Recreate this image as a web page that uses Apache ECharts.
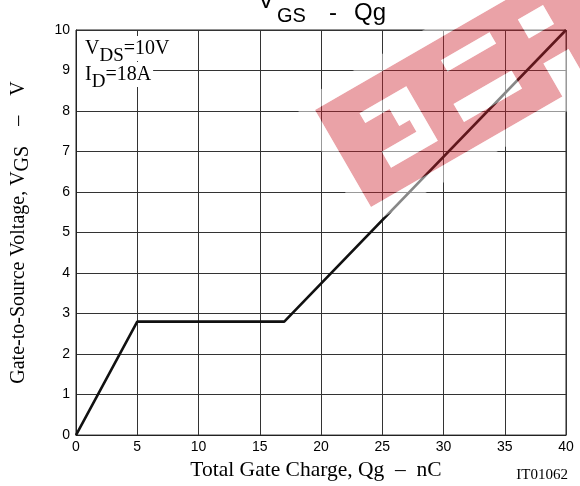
<!DOCTYPE html>
<html>
<head>
<meta charset="utf-8">
<script src="https://cdn.jsdelivr.net/npm/echarts@6/dist/echarts.min.js"></script>
<style>
html,body{margin:0;padding:0;background:#fff;}
#chart{width:580px;height:486px;}
</style>
</head>
<body>
<div id="chart"></div>
<script>
// Data
const qg = [0, 5, 17, 40];          // Total Gate Charge, nC
const vgs = [0, 2.8, 2.8, 10];      // Gate-to-Source Voltage, V
const xMin = 0, xMax = 40, xStep = 5;
const yMin = 0, yMax = 10, yStep = 1;

const serif = "'Liberation Serif','Times New Roman',serif";
const sans = "'Liberation Sans',Arial,sans-serif";

// watermark geometry (local coordinates of a rotated band)
const redPts = [[0,0],[330,0],[330,112],[250,112],[250,74],[221,74],[221,112],[0,112],[0,25],
 [37,25],[37,36.5],[65,36.5],[65,56],[77,56],[77,69.5],[37,69.5],[37,88],[91,88],[91,25],
 [134,25],[134,33],[160,33],[160,64],[123,64],[123,85],[190,85],[190,64],[160,64],[160,33],[190,33],[190,25],
 [221,25],[221,45],[250,45],[250,23],[221,23],[221,25],[190,25],[190,20],[134,20],[134,25],[91,25],[37,25],[0,25]];
const ringPts = [[-15,-15],[345,-15],[345,127],[-15,127],[-15,50],[0,50],[0,112],[221,112],[221,74],[250,74],[250,112],[330,112],[330,0],[0,0],[0,50],[-15,50]];
const hookPts = [[37,25],[91,25],[91,88],[37,88],[37,69.5],[77,69.5],[77,56],[65,56],[65,36.5],[37,36.5]];
const holeRects = [[134,20,56,13],[123,64,67,21],[221,23,29,22]];

const RED = 'rgba(205,34,45,0.42)';
const WHITE = 'rgba(255,255,255,0.5)';
const wmChildren = [
  {type:'polygon', z:50, shape:{points:redPts}, style:{fill:RED}},
  {type:'polygon', z:50, shape:{points:ringPts}, style:{fill:WHITE}},
  {type:'polygon', z:50, shape:{points:hookPts}, style:{fill:WHITE}}
].concat(holeRects.map(r => ({type:'rect', z:50, shape:{x:r[0],y:r[1],width:r[2],height:r[3]}, style:{fill:WHITE}})));

const annoRich = {
  a:{fontFamily:serif, fontSize:20, lineHeight:22, verticalAlign:'top', fill:'#000'},
  b:{fontFamily:serif, fontSize:19, lineHeight:16, padding:[8,0,0,0], verticalAlign:'top', fill:'#000'}
};

const chart = echarts.init(document.getElementById('chart'), null, {renderer:'canvas'});
chart.setOption({
  animation: false,
  backgroundColor: '#fff',
  grid: {left:76, right:14, top:30, bottom:50, show:true, borderColor:'#222', borderWidth:1},
  xAxis: {
    type:'value', min:xMin, max:xMax, interval:xStep,
    name:'Total Gate Charge, Qg  –  nC', nameLocation:'middle', nameGap:12,
    nameTextStyle:{fontFamily:serif, fontSize:21.5, color:'#000', padding:[0,10,0,0]},
    axisLine:{lineStyle:{color:'#222', width:1}}, axisTick:{show:false},
    axisLabel:{fontFamily:sans, fontSize:14, color:'#000', margin:5},
    splitLine:{show:true, lineStyle:{color:'#333', width:1}}
  },
  yAxis: {
    type:'value', min:yMin, max:yMax, interval:yStep,
    name:'Gate-to-Source Voltage, V{s|GS}    –    V', nameLocation:'middle', nameGap:68, nameRotate:90,
    nameTextStyle:{fontFamily:serif, fontSize:20, color:'#000', lineHeight:22, verticalAlign:'top',
      rich:{s:{fontFamily:serif, fontSize:20, lineHeight:19, padding:[5,0,0,0], verticalAlign:'top'}}},
    axisLine:{lineStyle:{color:'#222', width:1}}, axisTick:{show:false},
    axisLabel:{fontFamily:sans, fontSize:14, color:'#000', margin:6},
    splitLine:{show:true, lineStyle:{color:'#333', width:1}}
  },
  series: [{
    type:'line', data: qg.map((q,i)=>[q, vgs[i]]), symbol:'none',
    lineStyle:{color:'#111', width:2.6}, z:3
  }],
  graphic: [
    {type:'text', x:258, y:1, z:60, style:{text:'V', font:'24px '+sans, fill:'#000', verticalAlign:'middle'}},
    {type:'text', x:277, y:16.5, z:60, style:{text:'GS', font:'20px '+sans, fill:'#000', verticalAlign:'middle'}},
    {type:'text', x:329, y:13, z:60, style:{text:'-', font:'24px '+sans, fill:'#000', verticalAlign:'middle'}},
    {type:'text', x:354, y:13, z:60, style:{text:'Qg', font:'24px '+sans, fill:'#000', verticalAlign:'middle'}},
    {type:'text', x:77, y:36, z:40, style:{
      text:'{a|V}{b|DS}{a|=10V}', backgroundColor:'#fff', padding:[3,2,0,8], rich:annoRich}},
    {type:'text', x:77, y:62, z:40, style:{
      text:'{a|I}{b|D}{a|=18A}', backgroundColor:'#fff', padding:[3,2,0,8], rich:annoRich}},
    {type:'text', x:568, y:475, z:60, style:{text:'IT01062', font:'15px '+serif, fill:'#000', align:'right', verticalAlign:'middle'}},
    {type:'group', x:315, y:110, rotation:Math.PI/6, z:50, children: wmChildren}
  ]
});
</script>
</body>
</html>
